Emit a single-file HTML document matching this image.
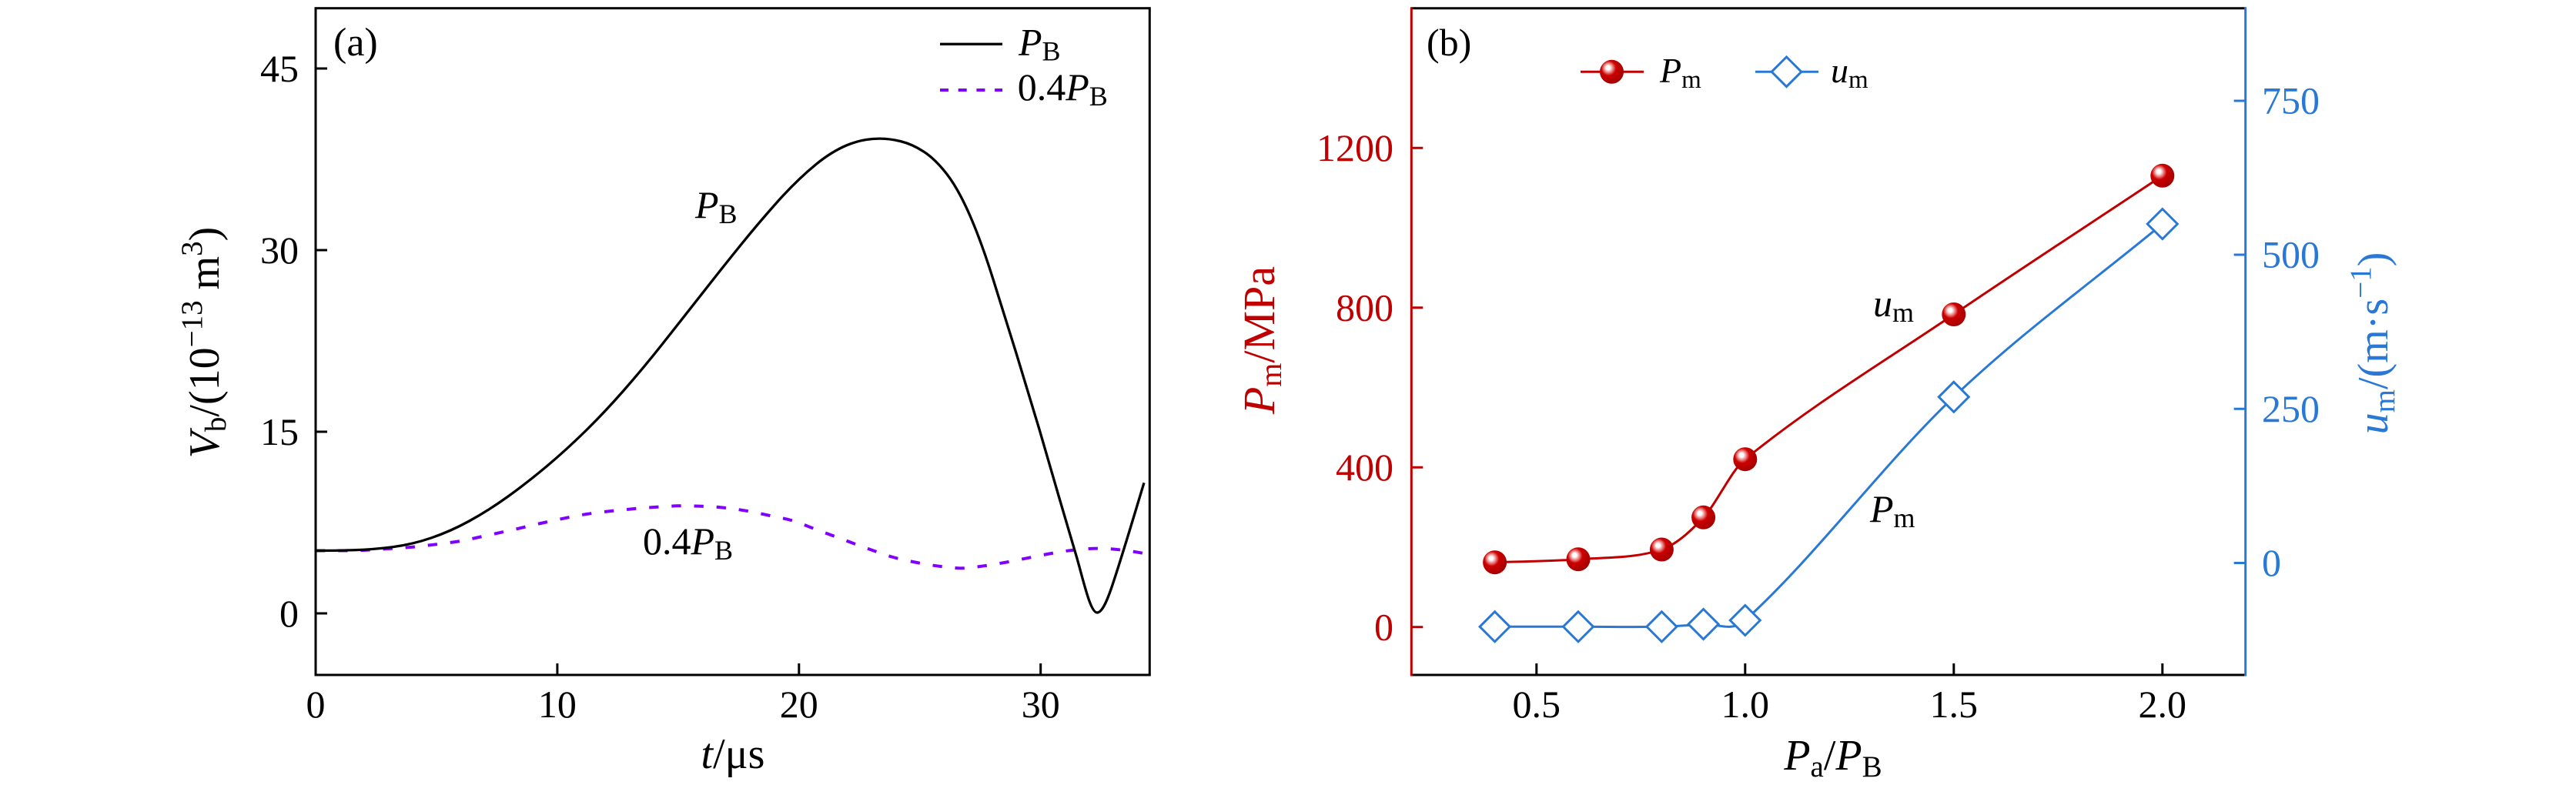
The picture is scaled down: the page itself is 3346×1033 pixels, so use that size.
<!DOCTYPE html>
<html><head><meta charset="utf-8">
<style>
html,body{margin:0;padding:0;background:#fff;}
svg{display:block;}
text{font-family:"Liberation Serif","DejaVu Serif",serif;}
</style></head>
<body>
<svg id="s" width="3346" height="1033" viewBox="0 0 3346 1033" xmlns="http://www.w3.org/2000/svg">
<defs>
<radialGradient id="ball" cx="0.4" cy="0.38" r="0.62" fx="0.34" fy="0.32">
<stop offset="0" stop-color="#ffffff"/>
<stop offset="0.13" stop-color="#ffffff"/>
<stop offset="0.3" stop-color="#ec8a8a"/>
<stop offset="0.5" stop-color="#cc0000"/>
<stop offset="1" stop-color="#a50000"/>
</radialGradient>
<clipPath id="ca"><rect x="410" y="10.7" width="1083.3" height="866.3"/></clipPath>
<clipPath id="cb"><rect x="1833.3" y="10.7" width="1083.4" height="866.3"/></clipPath>
</defs>

<!-- ================= (a) ================= -->
<g clip-path="url(#ca)">
<path id="pd" d="" fill="none" stroke="#7f00ff" stroke-width="4" stroke-dasharray="12.3 16.9"/>
<path id="pa" d="" fill="none" stroke="#000" stroke-width="3.3" stroke-linejoin="round"/>
</g>
<rect x="410" y="10.7" width="1083.3" height="866.3" fill="none" stroke="#000" stroke-width="3"/>
<path d="M410 797h15M410 561h15M410 325h15M410 89h15M723.9 877v-15M1037.8 877v-15M1351.7 877v-15" stroke="#000" stroke-width="3"/>
<g font-size="50" fill="#000">
<text x="388" y="814" text-anchor="end">0</text>
<text x="388" y="578" text-anchor="end">15</text>
<text x="388" y="342" text-anchor="end">30</text>
<text x="388" y="106" text-anchor="end">45</text>
<text x="410" y="932" text-anchor="middle">0</text>
<text x="723.9" y="932" text-anchor="middle">10</text>
<text x="1037.8" y="932" text-anchor="middle">20</text>
<text x="1351.7" y="932" text-anchor="middle">30</text>
</g>
<text x="952" y="998" text-anchor="middle" font-size="56"><tspan font-style="italic">t</tspan>/μs</text>
<text transform="translate(284,445) rotate(-90)" text-anchor="middle" font-size="56"><tspan font-style="italic">V</tspan><tspan font-size="39" dy="9">b</tspan><tspan dy="-9">/(10</tspan><tspan font-size="39" dy="-22">−13</tspan><tspan dy="22"> m</tspan><tspan font-size="39" dy="-22">3</tspan><tspan dy="22">)</tspan></text>
<text x="433" y="72" font-size="52">(a)</text>
<!-- legend a -->
<path d="M1221 57.3H1302" stroke="#000" stroke-width="3.3"/>
<path d="M1221 117H1302" stroke="#7f00ff" stroke-width="4" stroke-dasharray="11 12.7"/>
<text x="1323" y="71.7" font-size="50"><tspan font-style="italic">P</tspan><tspan font-size="36" dy="7">B</tspan></text>
<text x="1321.7" y="130" font-size="50">0.4<tspan font-style="italic">P</tspan><tspan font-size="36" dy="7">B</tspan></text>
<!-- annotations a -->
<text x="903" y="283" font-size="50"><tspan font-style="italic">P</tspan><tspan font-size="36" dy="7">B</tspan></text>
<text x="835" y="720" font-size="50">0.4<tspan font-style="italic">P</tspan><tspan font-size="36" dy="7">B</tspan></text>

<!-- ================= (b) ================= -->
<g clip-path="url(#cb)">
<path id="pr" d="" fill="none" stroke="#c00000" stroke-width="3"/>
<path id="pu" d="" fill="none" stroke="#2a78d6" stroke-width="3"/>
</g>
<g fill="url(#ball)">
<circle cx="1941.6" cy="730.7" r="15.5"/>
<circle cx="2050" cy="726.7" r="15.5"/>
<circle cx="2158.4" cy="714" r="15.5"/>
<circle cx="2212.6" cy="672.3" r="15.5"/>
<circle cx="2266.8" cy="596.7" r="15.5"/>
<circle cx="2537.8" cy="408.5" r="15.5"/>
<circle cx="2808.8" cy="228.3" r="15.5"/>
</g>
<g fill="#fff" stroke="#2a78d6" stroke-width="3">
<polygon points="1941.6,794.8 1961.1,814.3 1941.6,833.8 1922.1,814.3"/>
<polygon points="2050,794.8 2069.5,814.3 2050,833.8 2030.5,814.3"/>
<polygon points="2158.4,794.8 2177.9,814.3 2158.4,833.8 2138.9,814.3"/>
<polygon points="2212.6,791.5 2232.1,811 2212.6,830.5 2193.1,811"/>
<polygon points="2266.8,786.5 2286.3,806 2266.8,825.5 2247.3,806"/>
<polygon points="2537.8,496.3 2557.3,515.8 2537.8,535.3 2518.3,515.8"/>
<polygon points="2808.8,271.5 2828.3,291 2808.8,310.5 2789.3,291"/>
</g>
<path d="M1833.3 10.7H2916.7M1833.3 877H2916.7" stroke="#000" stroke-width="3"/>
<path d="M1995.8 877v-15M2266.8 877v-15M2537.8 877v-15M2808.8 877v-15" stroke="#000" stroke-width="3"/>
<path d="M1833.3 9.2V878.5M1833.3 814.8h15M1833.3 607.3h15M1833.3 399.8h15M1833.3 192.3h15" stroke="#c00000" stroke-width="3"/>
<path d="M2916.7 9.2V878.5M2916.7 731.5h-15M2916.7 531.3h-15M2916.7 331h-15M2916.7 131h-15" stroke="#2a78d6" stroke-width="3"/>
<g font-size="50" fill="#c00000" text-anchor="end">
<text x="1810" y="831.5">0</text>
<text x="1810" y="624">400</text>
<text x="1810" y="416.5">800</text>
<text x="1810" y="209">1200</text>
</g>
<g font-size="50" fill="#2a78d6">
<text x="2938" y="748">0</text>
<text x="2938" y="548">250</text>
<text x="2938" y="347.5">500</text>
<text x="2938" y="147.5">750</text>
</g>
<g font-size="50" fill="#000" text-anchor="middle">
<text x="1995.8" y="932">0.5</text>
<text x="2266.8" y="932">1.0</text>
<text x="2537.8" y="932">1.5</text>
<text x="2808.8" y="932">2.0</text>
</g>
<text x="2381" y="1000" text-anchor="middle" font-size="56"><tspan font-style="italic">P</tspan><tspan font-size="39" dy="9">a</tspan><tspan dy="-9">/</tspan><tspan font-style="italic">P</tspan><tspan font-size="39" dy="9">B</tspan></text>
<text transform="translate(1655,442) rotate(-90)" text-anchor="middle" font-size="58" fill="#c00000"><tspan font-style="italic">P</tspan><tspan font-size="40" dy="9">m</tspan><tspan dy="-9">/MPa</tspan></text>
<text transform="translate(3101,446) rotate(-90)" text-anchor="middle" font-size="56" fill="#2a78d6"><tspan font-style="italic">u</tspan><tspan font-size="39" dy="9">m</tspan><tspan dy="-9">/(m·s</tspan><tspan font-size="39" dy="-22">−1</tspan><tspan dy="22">)</tspan></text>
<text x="1853" y="72" font-size="50">(b)</text>
<!-- legend b -->
<path d="M2053 93.3H2135" stroke="#c00000" stroke-width="3"/>
<circle cx="2093.5" cy="93.3" r="15.5" fill="url(#ball)"/>
<text x="2156" y="107" font-size="46"><tspan font-style="italic">P</tspan><tspan font-size="33" dy="7">m</tspan></text>
<path d="M2280 93.3H2362" stroke="#2a78d6" stroke-width="3"/>
<polygon points="2320.5,74 2339.8,93.3 2320.5,112.6 2301.2,93.3" fill="#fff" stroke="#2a78d6" stroke-width="3"/>
<text x="2378" y="107" font-size="46"><tspan font-style="italic">u</tspan><tspan font-size="33" dy="7">m</tspan></text>
<!-- annotations b -->
<text x="2433" y="411" font-size="50"><tspan font-style="italic">u</tspan><tspan font-size="36" dy="7">m</tspan></text>
<text x="2429" y="678" font-size="50"><tspan font-style="italic">P</tspan><tspan font-size="36" dy="7">m</tspan></text>
</svg>
<script>
function hermite(p){
  var n=p.length,m=[],i;
  for(i=0;i<n;i++){
    if(i==0) m[i]=(p[1][1]-p[0][1])/(p[1][0]-p[0][0]);
    else if(i==n-1) m[i]=(p[n-1][1]-p[n-2][1])/(p[n-1][0]-p[n-2][0]);
    else m[i]=(p[i+1][1]-p[i-1][1])/(p[i+1][0]-p[i-1][0]);
  }
  for(i=0;i<n;i++) p[i][2]=m[i];
  return hermiteS(p);
}
function hermiteS(p){
  var n=p.length,i;
  var d='M'+p[0][0]+' '+p[0][1];
  for(i=0;i<n-1;i++){
    var dx=(p[i+1][0]-p[i][0])/3;
    d+=' C'+(p[i][0]+dx).toFixed(2)+' '+(p[i][1]+p[i][2]*dx).toFixed(2)+' '+(p[i+1][0]-dx).toFixed(2)+' '+(p[i+1][1]-p[i+1][2]*dx).toFixed(2)+' '+p[i+1][0]+' '+p[i+1][1];
  }
  return d;
}
var black=[
[410,715.5,0],[460,714.75,-0.03],[510,710.75,-0.13],[560,699.0,-0.34],[610,676.75,-0.55],
[660,645.0,-0.72],[710,606,-0.84],[760,560.5,-0.98],[810,507.5,-1.14],[860,447.5,-1.26],
[910,384,-1.28],[960,321,-1.24],[1010,262,-1.12],[1060,213.5,-0.82],[1100,188.7,-0.42],
[1125,181.45,-0.16],[1142,180.1,0],[1170,183.6,0.25],[1200,197.1,0.65],[1230,226.4,1.3],
[1260,280.4,2.3],[1290,362.9,3.2],[1320,458.9,3.2],[1350,557.9,3.4],[1375,644,3.5],
[1397,718.8,3.3],[1425,796,0],[1445,760,-3.0],[1486,627.3,-3.3]];
var dash=[[410,715.5],[440,715.5],[466.7,715.2],[500,713.3],[533.3,711],[566.7,707.3],[600,702.7],[633.3,695.5],[666.7,688.3],[700,680.5],[760,668.3],[816.7,661.7],[850,659],[880,657.3],[910,657.7],[933.3,659],[966.7,663.3],[1000,670],[1030,676.7],[1060,688],[1095,701],[1127.6,713],[1160,724],[1192.6,731.3],[1222,736],[1250,738.3],[1280,735],[1310,730],[1340,724],[1370,718.3],[1400,714],[1430,712.7],[1460,715],[1495,720.5]];
var red=[[1941.6,730.7],[2050,726.7],[2158.4,714],[2212.6,672.3],[2266.8,596.7],[2537.8,408.5],[2808.8,228.3]];
var blue=[[1941.6,814.3],[2050,814.3],[2158.4,814.3],[2212.6,811],[2266.8,806],[2537.8,515.8],[2808.8,291]];
document.getElementById('pa').setAttribute('d',hermiteS(black));
document.getElementById('pd').setAttribute('d',hermite(dash));
document.getElementById('pr').setAttribute('d',hermite(red));
document.getElementById('pu').setAttribute('d',hermite(blue));
</script>
</body></html>
